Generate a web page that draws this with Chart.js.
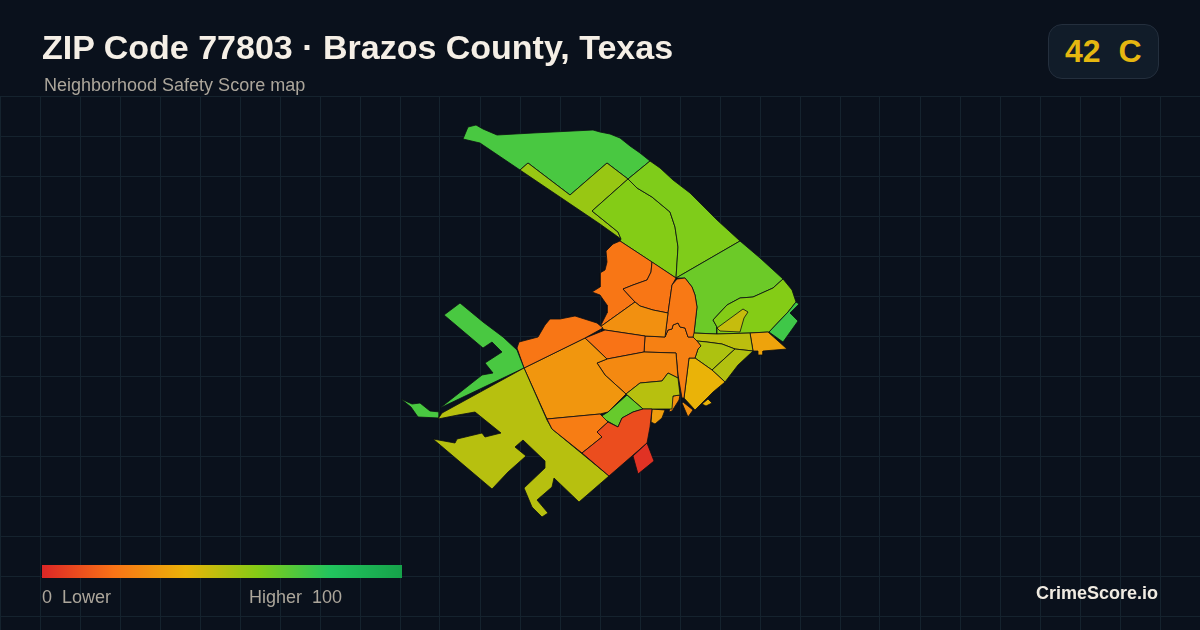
<!DOCTYPE html>
<html>
<head>
<meta charset="utf-8">
<script src="https://cdn.jsdelivr.net/npm/chart.js@4/dist/chart.umd.min.js"></script>
<style>
html, body { margin: 0; padding: 0; background: #0a111c; }
#page { position: relative; width: 1200px; height: 630px; overflow: hidden; font-family: "Liberation Sans", Arial, sans-serif; }
#map { position: absolute; left: 0; top: 0; }
.txt { position: absolute; white-space: pre; line-height: 1; }
#title { left: 42px; top: 30px; font-size: 34px; font-weight: bold; color: #f5efe6; }
#subtitle { left: 44px; top: 76px; font-size: 18px; color: #aca69b; }
#badge { position: absolute; left: 1048px; top: 24px; width: 109px; height: 53px; border: 1px solid #242f3d; border-radius: 14px; background: #111c29; }
#grade { left: 1065px; top: 35px; font-size: 32px; font-weight: bold; color: #e5b710; }
#bar { position: absolute; left: 42px; top: 565px; width: 360px; height: 13px; }
#low { left: 42px; top: 588px; font-size: 18px; color: #aca69b; }
#high { left: 249px; top: 588px; font-size: 18px; color: #aca69b; }
#brand { left: 1036px; top: 584px; font-size: 18px; font-weight: bold; color: #f0ebe2; }
</style>
</head>
<body>
<div id="page">
  <canvas id="map" width="1200" height="630"></canvas>
  <div class="txt" id="title">ZIP Code 77803 · Brazos County, Texas</div>
  <div class="txt" id="subtitle">Neighborhood Safety Score map</div>
  <div id="badge"></div>
  <div class="txt" id="grade">42  C</div>
  <div id="bar"></div>
  <div class="txt" id="low">0  Lower</div>
  <div class="txt" id="high">Higher  100</div>
  <div class="txt" id="brand">CrimeScore.io</div>
</div>
<script>
// colour ramp of the legend, score -> colour
const rampScores = [0, 20, 40, 60, 80, 100];
const rampColors = ["#dc2626", "#f97316", "#eab308", "#84cc16", "#22c55e", "#16a34a"];

// block group outlines, map units
const northGreen = [[463,139],[468,127],[476,125],[483,129],[497,135],[533,133],[593,130],[600,132],[610,134],[620,138],[630,146],[640,153],[650,161],[628,179],[607,163],[570,195],[528,163],[520,170],[480,143]];
const northStrip = [[520,170],[528,163],[570,195],[607,163],[628,179],[592,211],[618,232],[621,239],[600,224]];
const innerLime = [[628,179],[637,188],[652,197],[670,212],[675,227],[678,247],[676,278],[620,241],[621,239],[618,232],[592,211]];
const outerLime = [[650,161],[660,168],[673,180],[690,193],[700,203],[717,220],[740,241],[676,278],[678,247],[675,227],[670,212],[652,197],[637,188],[628,179]];
const eastBig = [[740,241],[760,258],[783,279],[773,288],[753,297],[740,298],[727,305],[713,320],[717,327],[717,334],[694,333],[697,307],[695,295],[692,287],[685,278],[676,278]];
const eastLime = [[783,279],[792,290],[796,302],[788,312],[769,332],[750,333],[717,334],[717,327],[713,320],[727,305],[740,298],[753,297],[773,288]];
const eastPocket = [[743,309],[748,312],[744,318],[740,332],[720,331],[717,328]];
const eastGreen = [[796,302],[799,304],[790,313],[798,321],[783,342],[769,332],[788,312]];
const eastAmber = [[750,333],[768,332],[787,349],[763,351],[763,355],[758,355],[758,351],[753,351]];
const midOlive = [[693,333],[717,334],[750,333],[753,351],[735,349],[722,344],[707,342],[697,341],[693,337]];
const midLime = [[697,341],[707,342],[722,344],[735,349],[712,370],[695,358],[698,349],[701,346]];
const midOlive2 = [[735,349],[753,351],[738,365],[725,382],[712,370]];
const southYellow = [[695,358],[712,370],[725,382],[713,392],[695,410],[684,398],[689,358]];
const isletYellow = [[702,404],[708,399],[712,403],[706,406]];
const tipOrange = [[683,402],[693,410],[688,417],[682,403]];
const tipOrange2 = [[673,396],[680,395],[679,400],[672,411],[669,412]];
const tipAmber = [[652,409],[665,410],[662,418],[655,424],[651,422]];
const coreOrange = [[665,337],[668,330],[672,329],[673,325],[678,323],[680,327],[685,328],[688,337],[693,337],[697,341],[701,346],[698,349],[695,358],[689,358],[684,398],[682,398],[678,375],[676,353],[644,352],[645,336]];
const westOrange = [[620,241],[613,244],[606,251],[607,262],[605,270],[600,273],[600,287],[592,292],[600,295],[607,305],[607,313],[600,327],[635,302],[623,289],[633,285],[647,280],[651,272],[652,262]];
const topOrange = [[652,262],[676,278],[672,285],[668,313],[653,310],[640,306],[635,302],[623,289],[633,285],[647,280],[651,272]];
const rightOrange = [[672,285],[677,279],[685,278],[692,287],[695,295],[697,307],[694,333],[693,337],[688,337],[685,328],[680,327],[678,323],[673,325],[672,329],[668,330],[665,337],[668,313]];
const centerAmber = [[635,302],[640,306],[653,310],[668,313],[665,337],[645,336],[605,330],[600,327]];
const leftOrange = [[585,338],[605,330],[645,336],[644,352],[607,359]];
const midAmber = [[607,359],[644,352],[676,353],[678,378],[668,373],[662,381],[640,383],[626,394],[605,375],[597,363]];
const southOlive = [[626,394],[640,383],[662,381],[668,373],[678,378],[680,395],[673,396],[672,409],[652,409],[643,409]];
const southGreen = [[627,395],[643,409],[633,412],[622,418],[618,427],[600,417],[608,412]];
const bigAmber = [[524,368],[585,338],[607,359],[597,363],[605,375],[626,394],[608,412],[600,414],[547,419]];
const ridgeOrange = [[517,348],[519,342],[538,337],[545,325],[550,319],[560,319],[575,316],[597,323],[603,328],[585,338],[524,368]];
const westGreen = [[460,303],[444,315],[483,348],[492,342],[502,352],[485,363],[493,373],[482,375],[463,390],[440,408],[524,368],[517,350],[503,337],[483,322]];
const tailGreen = [[401,399],[412,404],[420,403],[430,411],[440,412],[439,418],[418,417],[411,407]];
const southWest = [[438,419],[442,413],[524,368],[547,420],[552,429],[609,476],[579,502],[554,478],[552,487],[537,500],[548,513],[542,517],[532,507],[524,488],[545,468],[545,461],[523,440],[515,447],[526,456],[508,472],[492,489],[433,439],[455,443],[457,439],[482,433],[485,437],[501,433],[475,412],[458,415]];
const southOrange = [[547,419],[600,414],[608,422],[597,432],[602,437],[582,453],[552,429]];
const southRed = [[602,437],[597,432],[608,422],[618,427],[622,418],[633,412],[643,409],[652,409],[650,427],[647,443],[632,456],[609,476],[582,453]];
const redPatch = [[647,443],[654,461],[638,474],[633,456]];

const rings = [northGreen, northStrip, innerLime, outerLime, eastBig, eastLime, eastPocket, eastGreen, eastAmber, midOlive, midLime, midOlive2, southYellow, isletYellow, tipOrange, tipOrange2, tipAmber, coreOrange, westOrange, topOrange, rightOrange, centerAmber, leftOrange, midAmber, southOlive, southGreen, bigAmber, ridgeOrange, westGreen, tailGreen, southWest, southOrange, southRed, redPatch];
const scores = [72, 56, 60, 61, 65, 60, 47, 74, 35, 49, 52, 51, 40, 40, 29, 29, 33, 24, 21, 21, 22, 29, 20, 27, 50, 66, 31, 21, 72, 72, 50, 23, 10, 3];

function hexRgb(h) {
    return [1, 3, 5].map(i => parseInt(h.substr(i, 2), 16));
}
function scoreColor(s) {
    let i = 0;
    while (i < rampScores.length - 2 && s > rampScores[i + 1]) i++;
    const t = (s - rampScores[i]) / (rampScores[i + 1] - rampScores[i]);
    const a = hexRgb(rampColors[i]), b = hexRgb(rampColors[i + 1]);
    return "rgb(" + a.map((v, k) => Math.round(v + (b[k] - v) * t)).join(",") + ")";
}

document.getElementById("bar").style.background =
    "linear-gradient(to right," + rampColors.map((c, i) => c + " " + rampScores[i] + "%").join(",") + ")";

const datasets = rings.map((ring, i) => ({
    type: "scatter",
    showLine: true,
    data: ring.concat([ring[0]]).map(p => ({ x: p[0], y: p[1] })),
    fill: "shape",
    backgroundColor: scoreColor(scores[i]),
    borderColor: "#0b0f14",
    borderWidth: 0.8,
    pointRadius: 0,
    tension: 0,
    order: -i
}));

new Chart(document.getElementById("map").getContext("2d"), {
    data: { datasets: datasets },
    options: {
        responsive: false,
        animation: false,
        layout: { padding: { top: 96 } },
        plugins: { legend: { display: false }, tooltip: { enabled: false } },
        scales: {
            x: {
                type: "linear", min: 0, max: 1200,
                ticks: { display: false, stepSize: 40 },
                grid: { color: "#15232e", lineWidth: 1, drawTicks: false },
                border: { display: false }
            },
            y: {
                type: "linear", min: 96, max: 630, reverse: true,
                afterBuildTicks: axis => {
                    const t = [];
                    for (let v = 96; v <= 630; v += 40) t.push({ value: v });
                    axis.ticks = t;
                },
                ticks: { display: false },
                grid: { color: "#15232e", lineWidth: 1, drawTicks: false },
                border: { display: false }
            }
        }
    }
});
</script>
</body>
</html>
